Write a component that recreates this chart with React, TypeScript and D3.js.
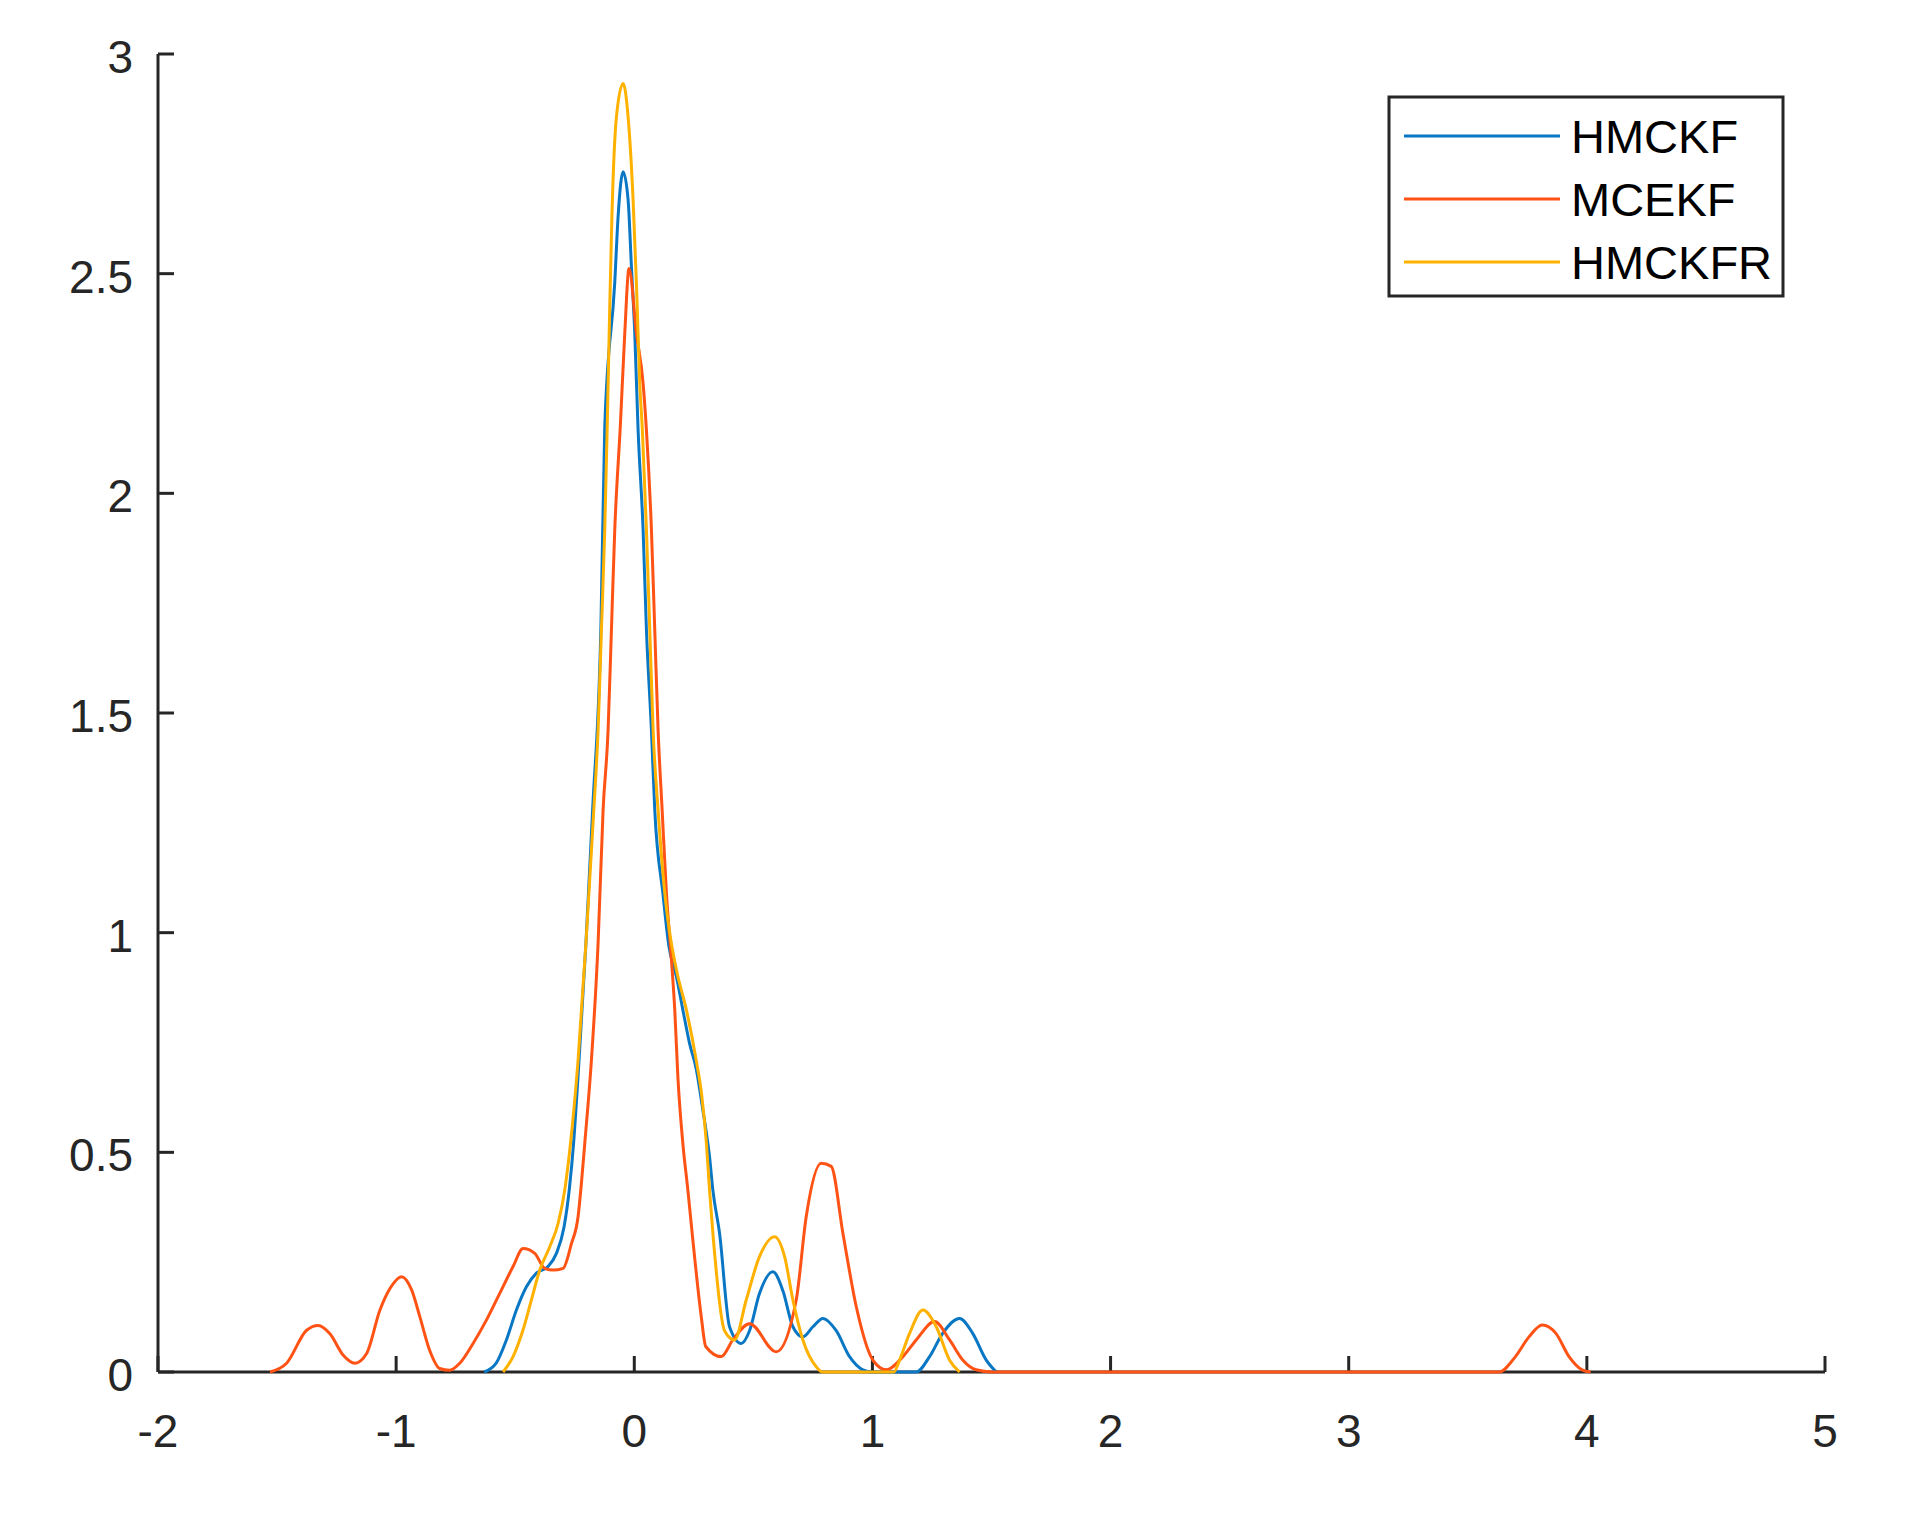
import React from "react";
import * as d3 from "d3";

// kernel density estimates: [x, density]
const hmckf: [number, number][] = [
  [-0.63, 0], [-0.58, 0.02], [-0.537, 0.073], [-0.495, 0.141], [-0.453, 0.194],
  [-0.411, 0.225], [-0.362, 0.24], [-0.327, 0.27], [-0.295, 0.33], [-0.272, 0.42],
  [-0.255, 0.52], [-0.232, 0.71], [-0.203, 0.976], [-0.175, 1.279], [-0.14, 1.7],
  [-0.124, 2.15], [-0.082, 2.48], [-0.068, 2.63], [-0.047, 2.732], [-0.026, 2.668],
  [-0.012, 2.516], [0.002, 2.364], [0.016, 2.144], [0.037, 1.917], [0.051, 1.689],
  [0.072, 1.461], [0.086, 1.279], [0.12, 1.09], [0.145, 0.97], [0.177, 0.9],
  [0.204, 0.824], [0.232, 0.748], [0.26, 0.69], [0.288, 0.596], [0.316, 0.49],
  [0.33, 0.414], [0.358, 0.316], [0.4, 0.103], [0.449, 0.065], [0.484, 0.094],
  [0.526, 0.179], [0.582, 0.228], [0.624, 0.185], [0.666, 0.103], [0.708, 0.08],
  [0.75, 0.103], [0.792, 0.122], [0.848, 0.094], [0.904, 0.035], [0.96, 0.005],
  [1.0, 0], [1.184, 0], [1.24, 0.035], [1.295, 0.088], [1.366, 0.122],
  [1.421, 0.088], [1.478, 0.027], [1.52, 0],
];

const mcekf: [number, number][] = [
  [-1.53, 0], [-1.46, 0.02], [-1.376, 0.095], [-1.327, 0.106], [-1.278, 0.087],
  [-1.222, 0.038], [-1.173, 0.02], [-1.124, 0.042], [-1.068, 0.141], [-1.026, 0.19],
  [-0.977, 0.217], [-0.935, 0.187], [-0.9, 0.125], [-0.859, 0.049], [-0.817, 0.008],
  [-0.775, 0.004], [-0.733, 0.02], [-0.677, 0.065], [-0.621, 0.118], [-0.565, 0.179],
  [-0.509, 0.24], [-0.467, 0.281], [-0.418, 0.27], [-0.376, 0.236], [-0.341, 0.232],
  [-0.299, 0.236], [-0.264, 0.292], [-0.236, 0.354], [-0.222, 0.43], [-0.208, 0.52],
  [-0.18, 0.71], [-0.152, 0.976], [-0.131, 1.279], [-0.11, 1.461], [-0.096, 1.689],
  [-0.082, 1.917], [-0.058, 2.16], [-0.04, 2.364], [-0.022, 2.512], [0.009, 2.364],
  [0.037, 2.25], [0.051, 2.144], [0.072, 1.917], [0.086, 1.689], [0.1, 1.461],
  [0.117, 1.279], [0.135, 1.09], [0.156, 0.938], [0.17, 0.824], [0.183, 0.672],
  [0.204, 0.52], [0.225, 0.414], [0.246, 0.3], [0.281, 0.127], [0.3, 0.058],
  [0.365, 0.035], [0.414, 0.073], [0.484, 0.11], [0.596, 0.046], [0.68, 0.164],
  [0.722, 0.354], [0.785, 0.475], [0.827, 0.468], [0.876, 0.316], [0.932, 0.149],
  [1.002, 0.027], [1.058, 0.005], [1.128, 0.035], [1.184, 0.073], [1.261, 0.115],
  [1.324, 0.073], [1.38, 0.027], [1.436, 0.005], [1.5, 0], [3.632, 0],
  [3.7, 0.035], [3.757, 0.08], [3.813, 0.107], [3.87, 0.088], [3.925, 0.035],
  [3.98, 0.005], [4.016, 0],
];

const hmckfr: [number, number][] = [
  [-0.551, 0], [-0.509, 0.035], [-0.467, 0.096], [-0.432, 0.164], [-0.397, 0.232],
  [-0.355, 0.285], [-0.32, 0.338], [-0.292, 0.414], [-0.271, 0.505], [-0.236, 0.71],
  [-0.203, 0.976], [-0.17, 1.279], [-0.152, 1.461], [-0.138, 1.689], [-0.124, 1.917],
  [-0.114, 2.144], [-0.104, 2.4], [-0.094, 2.63], [-0.075, 2.857], [-0.047, 2.933],
  [-0.026, 2.857], [-0.005, 2.668], [0.009, 2.478], [0.023, 2.25], [0.034, 2.144],
  [0.051, 1.917], [0.065, 1.689], [0.079, 1.461], [0.1, 1.279], [0.128, 1.09],
  [0.149, 0.999], [0.177, 0.915], [0.219, 0.824], [0.26, 0.71], [0.282, 0.635],
  [0.303, 0.52], [0.316, 0.414], [0.33, 0.316], [0.379, 0.094], [0.421, 0.073],
  [0.47, 0.164], [0.526, 0.263], [0.589, 0.308], [0.631, 0.263], [0.666, 0.164],
  [0.708, 0.073], [0.764, 0.012], [0.79, 0], [1.09, 0], [1.114, 0.027],
  [1.156, 0.088], [1.212, 0.141], [1.268, 0.103], [1.324, 0.027], [1.366, 0],
];

const seriesNames = ["HMCKF", "MCEKF", "HMCKFR"];
const seriesColors = ["#0A77C4", "#FF5315", "#FFB100"];
const xTicks = [-2, -1, 0, 1, 2, 3, 4, 5];
const yTicks = [0, 0.5, 1, 1.5, 2, 2.5, 3];

const W = 1917;
const H = 1514;
const axisColor = "#262626";
const font = "'Liberation Sans', Arial, Helvetica, sans-serif";

export default function App() {
  const x = d3.scaleLinear().domain([-2, 5]).range([158, 1825]);
  const y = d3.scaleLinear().domain([0, 3]).range([1372, 54]);

  const line = d3
    .line<[number, number]>()
    .x((d) => x(d[0]))
    .y((d) => y(d[1]))
    .curve(d3.curveMonotoneX);

  const series = [hmckf, mcekf, hmckfr];

  const legend = { x: 1389, y: 97, w: 394, h: 199 };
  const rowY = [136, 199, 262];

  return (
    <svg
      width={W}
      height={H}
      style={{ position: "absolute", left: 0, top: 0, background: "#fff" }}
      fontFamily={font}
    >
      {/* axes */}
      <g stroke={axisColor} strokeWidth={3} fill="none">
        <line x1={x(-2)} x2={x(5)} y1={y(0)} y2={y(0)} />
        <line x1={x(-2)} x2={x(-2)} y1={y(0)} y2={y(3)} />
        {xTicks.map((t) => (
          <line key={"xt" + t} x1={x(t)} x2={x(t)} y1={y(0)} y2={y(0) - 16} />
        ))}
        {yTicks.map((t) => (
          <line key={"yt" + t} x1={x(-2)} x2={x(-2) + 16} y1={y(t)} y2={y(t)} />
        ))}
      </g>
      <g fill={axisColor} fontSize={46}>
        {xTicks.map((t) => (
          <text key={"xl" + t} x={x(t)} y={y(0) + 75} textAnchor="middle">
            {String(t)}
          </text>
        ))}
        {yTicks.map((t) => (
          <text key={"yl" + t} x={133} y={y(t) + 19} textAnchor="end">
            {String(t)}
          </text>
        ))}
      </g>

      {/* density curves */}
      {series.map((s, i) => (
        <path
          key={seriesNames[i]}
          d={line(s) || ""}
          fill="none"
          stroke={seriesColors[i]}
          strokeWidth={3}
          strokeLinejoin="round"
        />
      ))}

      {/* legend */}
      <rect
        x={legend.x}
        y={legend.y}
        width={legend.w}
        height={legend.h}
        fill="#fff"
        stroke={axisColor}
        strokeWidth={3}
      />
      {seriesNames.map((n, i) => (
        <g key={"lg" + n}>
          <line
            x1={1404}
            x2={1560}
            y1={rowY[i]}
            y2={rowY[i]}
            stroke={seriesColors[i]}
            strokeWidth={3}
          />
          <text x={1571} y={rowY[i] + 17} fontSize={47} fill="#000">
            {n}
          </text>
        </g>
      ))}
    </svg>
  );
}
